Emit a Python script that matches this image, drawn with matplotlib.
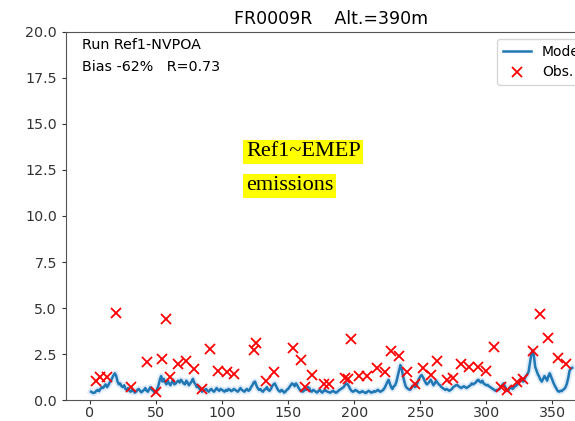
import numpy as np
import matplotlib
matplotlib.use("Agg")
import matplotlib.pyplot as plt

# daily model values (day 1..365)
model = [
    0.45, 0.40, 0.38, 0.42, 0.50, 0.55, 0.48, 0.60, 0.70, 0.65,
    0.75, 0.85, 0.70, 0.80, 0.95, 1.05, 1.20, 1.35, 1.45, 1.30,
    1.00, 0.85, 0.90, 0.75, 0.70, 0.80, 0.60, 0.55, 0.65, 0.50,
    0.45, 0.55, 0.50, 0.40, 0.45, 0.55, 0.60, 0.50, 0.42, 0.48,
    0.55, 0.65, 0.50, 0.45, 0.60, 0.70, 0.55, 0.50, 0.40, 0.45,
    0.60, 0.80, 1.10, 1.30, 1.00, 1.15, 0.95, 0.85, 1.05, 0.90,
    0.80, 0.95, 1.10, 0.85, 0.90, 1.00, 1.05, 0.95, 1.10, 1.00,
    0.90, 0.85, 1.05, 0.95, 0.80, 0.90, 1.00, 1.15, 0.95, 0.85,
    0.70, 0.75, 0.60, 0.55, 0.45, 0.50, 0.55, 0.60, 0.50, 0.45,
    0.55, 0.60, 0.50, 0.45, 0.55, 0.65, 0.55, 0.50, 0.60, 0.55,
    0.50, 0.45, 0.55, 0.50, 0.60, 0.55, 0.48, 0.52, 0.60, 0.55,
    0.50, 0.45, 0.55, 0.65, 0.55, 0.50, 0.45, 0.55, 0.60, 0.50,
    0.55, 0.70, 0.80, 0.95, 1.00, 0.80, 0.65, 0.55, 0.60, 0.50,
    0.45, 0.55, 0.60, 0.70, 0.55, 0.50, 0.60, 0.75, 0.85, 0.90,
    0.75, 0.60, 0.50, 0.45, 0.55, 0.50, 0.40, 0.45, 0.55, 0.60,
    0.70, 0.80, 0.90, 0.85, 0.75, 0.90, 0.80, 0.65, 0.55, 0.50,
    0.45, 0.50, 0.60, 0.55, 0.70, 0.65, 0.50, 0.45, 0.55, 0.50,
    0.45, 0.40, 0.50, 0.55, 0.45, 0.40, 0.50, 0.55, 0.48, 0.45,
    0.42, 0.40, 0.45, 0.50, 0.45, 0.40, 0.42, 0.50, 0.55, 0.60,
    0.65, 0.70, 0.80, 0.90, 0.85, 0.75, 0.60, 0.50, 0.45, 0.48,
    0.55, 0.50, 0.45, 0.40, 0.42, 0.48, 0.45, 0.40, 0.38, 0.45,
    0.50, 0.45, 0.40, 0.42, 0.48, 0.45, 0.50, 0.55, 0.48, 0.45,
    0.50, 0.55, 0.65, 0.80, 0.95, 1.10, 0.90, 0.70, 0.60, 0.75,
    0.80, 1.00, 1.30, 1.60, 1.90, 1.70, 1.30, 1.00, 0.75, 0.65,
    0.60, 0.55, 0.60, 0.75, 0.80, 0.70, 0.75, 0.95, 1.15, 1.27,
    1.36, 1.25, 1.10, 0.95, 0.85, 0.90, 1.00, 1.10, 0.95, 0.80,
    0.90, 1.05, 0.95, 0.85, 0.80, 0.70, 0.65, 0.60, 0.55, 0.60,
    0.55, 0.50, 0.55, 0.60, 0.70, 0.75, 0.80, 0.82, 0.75, 0.70,
    0.65, 0.70, 0.75, 0.70, 0.65, 0.70, 0.75, 0.80, 0.90, 0.85,
    0.90, 0.95, 1.05, 1.10, 1.00, 0.95, 1.05, 0.90, 0.85, 0.80,
    0.82, 0.75, 0.70, 0.65, 0.60, 0.55, 0.50, 0.55, 0.54, 0.60,
    0.70, 0.80, 0.90, 0.75, 0.60, 0.50, 0.55, 0.70, 0.65, 0.60,
    0.70, 0.75, 0.80, 0.90, 1.00, 1.10, 1.05, 1.00, 1.15, 1.30,
    1.40, 1.54, 2.00, 2.45, 2.70, 2.40, 1.80, 1.60, 1.40, 1.27,
    1.10, 1.00, 1.15, 1.30, 1.20, 1.05, 1.30, 1.45, 1.27, 1.10,
    0.90, 0.75, 0.63, 0.50, 0.45, 0.50, 0.48, 0.55, 0.60, 0.70,
    0.90, 1.20, 1.60, 1.70, 1.75,
]
days = np.arange(1, len(model) + 1)

obs_day = [5, 8, 13, 20, 31, 43, 50, 55, 58, 61, 67, 73, 79, 85, 91, 97,
           104, 109, 124, 126, 133, 139, 154, 160, 163, 168, 177, 181,
           193, 195, 198, 204, 210, 217, 223, 228, 234, 240, 246, 252,
           258, 263, 270, 275, 281, 287, 294, 300, 306, 311, 316, 323,
           328, 335, 341, 347, 354, 360]
obs_val = [1.05, 1.23, 1.23, 4.75, 0.69, 2.08, 0.45, 2.21, 4.38, 1.27,
           1.96, 2.14, 1.70, 0.62, 2.75, 1.60, 1.54, 1.41, 2.72, 3.11,
           1.05, 1.54, 2.81, 2.17, 0.72, 1.36, 0.87, 0.87, 1.18, 1.12,
           3.30, 1.30, 1.30, 1.76, 1.54, 2.68, 2.39, 1.54, 0.87, 1.72,
           1.36, 2.14, 1.09, 1.18, 1.96, 1.78, 1.78, 1.60, 2.86, 0.72,
           0.54, 1.00, 1.12, 2.68, 4.67, 3.35, 2.27, 1.96]

fig = plt.figure(figsize=(5.75, 4.21), dpi=100)
ax = fig.add_axes([66 / 575, 21 / 421, 530 / 575, 368 / 421])

ax.plot(days, model, color='#9ec5f0', lw=4.5, alpha=0.35)
ax.plot(days, model, color='#1f77b4', lw=1.8, label='Model')
ax.plot(obs_day, obs_val, 'x', color='red', ms=6.5, mew=1.3, label='Obs.')

ax.set_ylim(0, 20)
ax.set_xlim(-18, 383)
ax.set_xticks(np.arange(0, 400, 50))
ax.set_yticks(np.arange(0, 20.1, 2.5))
ax.tick_params(labelsize=10.3, colors='#333333', length=3)
ax.tick_params(axis='x', pad=1.5)
for s in ax.spines.values():
    s.set_color('#555555')

ax.set_title('FR0009R    Alt.=390m', fontsize=12.5)
ax.text(0.03, 0.985, 'Run Ref1-NVPOA', transform=ax.transAxes, fontsize=10.3, va='top')
ax.text(0.03, 0.925, 'Bias -62%   R=0.73', transform=ax.transAxes, fontsize=10.3, va='top')
ax.legend(loc='upper right', fontsize=10)

fig.text(246 / 575, 1 - 152 / 421, 'Ref1~EMEP', family='Liberation Serif', fontsize=16,
         va='center', bbox=dict(facecolor='yellow', edgecolor='none', pad=2))
fig.text(246 / 575, 1 - 186 / 421, 'emissions', family='Liberation Serif', fontsize=16,
         va='center', bbox=dict(facecolor='yellow', edgecolor='none', pad=2))

fig.savefig('out.png', dpi=100)
